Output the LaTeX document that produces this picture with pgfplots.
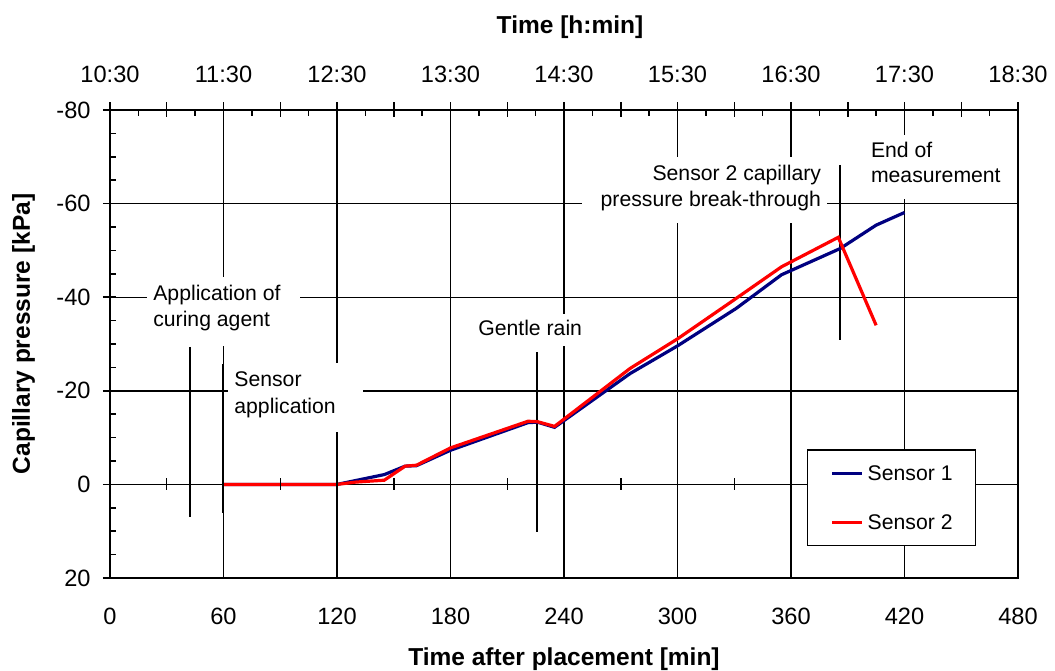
\documentclass[border=0pt]{standalone}
\usepackage{fontspec}
\setmainfont{Liberation Sans}
\usepackage{pgfplots}
\pgfplotsset{compat=1.18}
\newcommand{\annf}{\fontsize{10.6}{13}\selectfont}
\newcommand{\tickf}{\fontsize{11.8}{14}\selectfont}
\newcommand{\titf}{\fontsize{12.25}{15}\selectfont\bfseries}
\definecolor{sone}{RGB}{0,0,128}
\definecolor{stwo}{RGB}{255,0,0}
\begin{document}
\begin{tikzpicture}
\begin{axis}[
  width=454pt, height=234pt, scale only axis,
  xmin=0, xmax=480, ymin=-80, ymax=20, y dir=reverse,
  clip=false,
  axis line style={black, line width=1pt},
  xtick={0,60,120,180,240,300,360,420,480},
  xticklabels={0,60,120,180,240,300,360,420,480},
  ytick={-80,-60,-40,-20,0,20},
  yticklabels={-80,-60,-40,-20,0,20},
  major tick length=0pt, minor tick length=0pt,
  grid=major,
  major grid style={black, line width=0.7pt},
  xticklabel style={font=\tickf, anchor=base, inner sep=0pt, yshift=-23pt},
  yticklabel style={font=\tickf, anchor=east, inner sep=0pt, xshift=-9.5pt},
  xlabel={Time after placement [min]},
  xlabel style={font=\titf, at={(axis description cs:0.5,-0.188)}, anchor=base, inner sep=0pt},
  ylabel={Capillary pressure [kPa]},
  ylabel style={font=\titf, at={(axis description cs:-0.0881,0.5214)}, anchor=base, inner sep=0pt},
  legend style={at={(0.7676,0.2756)}, anchor=north west, draw=black, line width=0.75pt, fill=white,
    inner xsep=11.5pt, inner ysep=8pt, row sep=16.75pt, column sep=2pt,
    font=\annf, nodes={inner sep=0pt, text height=7.6pt, text depth=0pt}},
  legend cell align=left,
  legend image code/.code={\draw[#1, line width=1.5pt] (0pt,0pt) -- (15pt,0pt);},
]
\coordinate (O) at (axis description cs:0,0);
% white label boxes
\fill[white] (axis cs:19.6,-44.3) rectangle (axis cs:100.4,-29.6);
\fill[white] (axis cs:62.4,-25.9) rectangle (axis cs:133.8,-11.2);
\fill[white] (axis cs:182.4,-36.4) rectangle (axis cs:253.7,-29.6);
\fill[white] (axis cs:249.5,-70.0) rectangle (axis cs:378.9,-55.9);
\fill[white] (axis cs:399.1,-74.7) rectangle (axis cs:475.8,-61.0);
\node[anchor=base west, inner sep=0pt, font=\annf] at (axis cs:22.7,-39.25) {Application of};
\node[anchor=base west, inner sep=0pt, font=\annf] at (axis cs:22.7,-33.7) {curing agent};
\node[anchor=base west, inner sep=0pt, font=\annf] at (axis cs:65.55,-20.9) {Sensor};
\node[anchor=base west, inner sep=0pt, font=\annf] at (axis cs:65.55,-15.2) {application};
\node[anchor=base west, inner sep=0pt, font=\annf] at (axis cs:194.5,-31.8) {Gentle rain};
\node[anchor=base east, inner sep=0pt, font=\annf] at (axis cs:376.1,-65.0) {Sensor 2 capillary};
\node[anchor=base east, inner sep=0pt, font=\annf] at (axis cs:376.1,-59.3) {pressure break-through};
\node[anchor=base west, inner sep=0pt, font=\annf] at (axis cs:402.1,-69.9) {End of};
\node[anchor=base west, inner sep=0pt, font=\annf] at (axis cs:402.1,-64.6) {measurement};
\node[anchor=base, inner sep=0pt, font=\titf] at (axis description cs:0.5066,1.1645) {Time [h:min]};
% annotation lines
\addplot[black, line width=1pt, forget plot] coordinates {(42.3,-29.4) (42.3,7.0)};
\addplot[black, line width=1pt, forget plot] coordinates {(59.5,-25.7) (59.5,6.1)};
\addplot[black, line width=1pt, forget plot] coordinates {(225.7,-28.2) (225.7,10.2)};
\addplot[black, line width=1pt, forget plot] coordinates {(385.9,-68.3) (385.9,-30.9)};
% data
\addplot[sone, line width=1.6pt] coordinates {
(60,0) (120,0) (145,-2.1) (156,-3.9) (162,-4.0) (180,-7.3) (221,-13.2) (226,-13.3)
(235,-12.2) (275,-23.7) (300,-29.6) (331,-37.6) (355,-44.8) (386,-50.4) (405,-55.4) (420,-58.1)};
\addlegendentry{Sensor 1}
\addplot[stwo, line width=1.6pt] coordinates {
(60,0) (120,0) (130,-0.5) (145,-0.9) (156,-3.9) (162,-4.1) (180,-7.8) (221,-13.5) (226,-13.4)
(235,-12.4) (275,-24.8) (300,-31.1) (328,-38.9) (355,-46.5) (385,-52.8) (405,-34.0)};
\addlegendentry{Sensor 2}
% ticks
\pgfplotsinvokeforeach{0,30,60,90,120,150,180,210,240,270,300,330,360,390,420,450,480}{
  \draw[black, line width=0.75pt] ([yshift=3pt]axis cs:#1,0) -- ([yshift=-3pt]axis cs:#1,0);
  \draw[black, line width=0.75pt] ([yshift=4pt]axis cs:#1,-80) -- ([yshift=-3.5pt]axis cs:#1,-80);
}
\pgfplotsinvokeforeach{15,45,75,105,135,165,195,225,255,285,315,345,375,405,435,465}{
  \draw[black, line width=0.75pt] (axis cs:#1,-80) -- ([yshift=-3pt]axis cs:#1,-80);
}
\pgfplotsinvokeforeach{-80,-60,-40,-20,0,20}{
  \draw[black, line width=0.75pt] ([xshift=-3.5pt]axis cs:0,#1) -- ([xshift=3pt]axis cs:0,#1);
}
\pgfplotsinvokeforeach{-75,-70,-65,-55,-50,-45,-35,-30,-25,-15,-10,-5,5,10,15}{
  \draw[black, line width=0.75pt] (axis cs:0,#1) -- ([xshift=3pt]axis cs:0,#1);
}
\end{axis}
\begin{axis}[
  width=454pt, height=234pt, scale only axis,
  xmin=0, xmax=480, ymin=-80, ymax=20,
  axis x line*=top, axis y line=none,
  axis line style={black, line width=1pt},
  xtick={0,60,120,180,240,300,360,420,480},
  xticklabels={10:30,11:30,12:30,13:30,14:30,15:30,16:30,17:30,18:30},
  major tick length=0pt, minor tick length=0pt,
  xticklabel style={font=\tickf, anchor=base, inner sep=0pt, yshift=14pt},
]
\end{axis}
\pgfresetboundingbox
\path[use as bounding box] ([shift={(-55pt,-46pt)}]O) rectangle ([shift={(472.5pt,289pt)}]O);
\end{tikzpicture}
\end{document}
